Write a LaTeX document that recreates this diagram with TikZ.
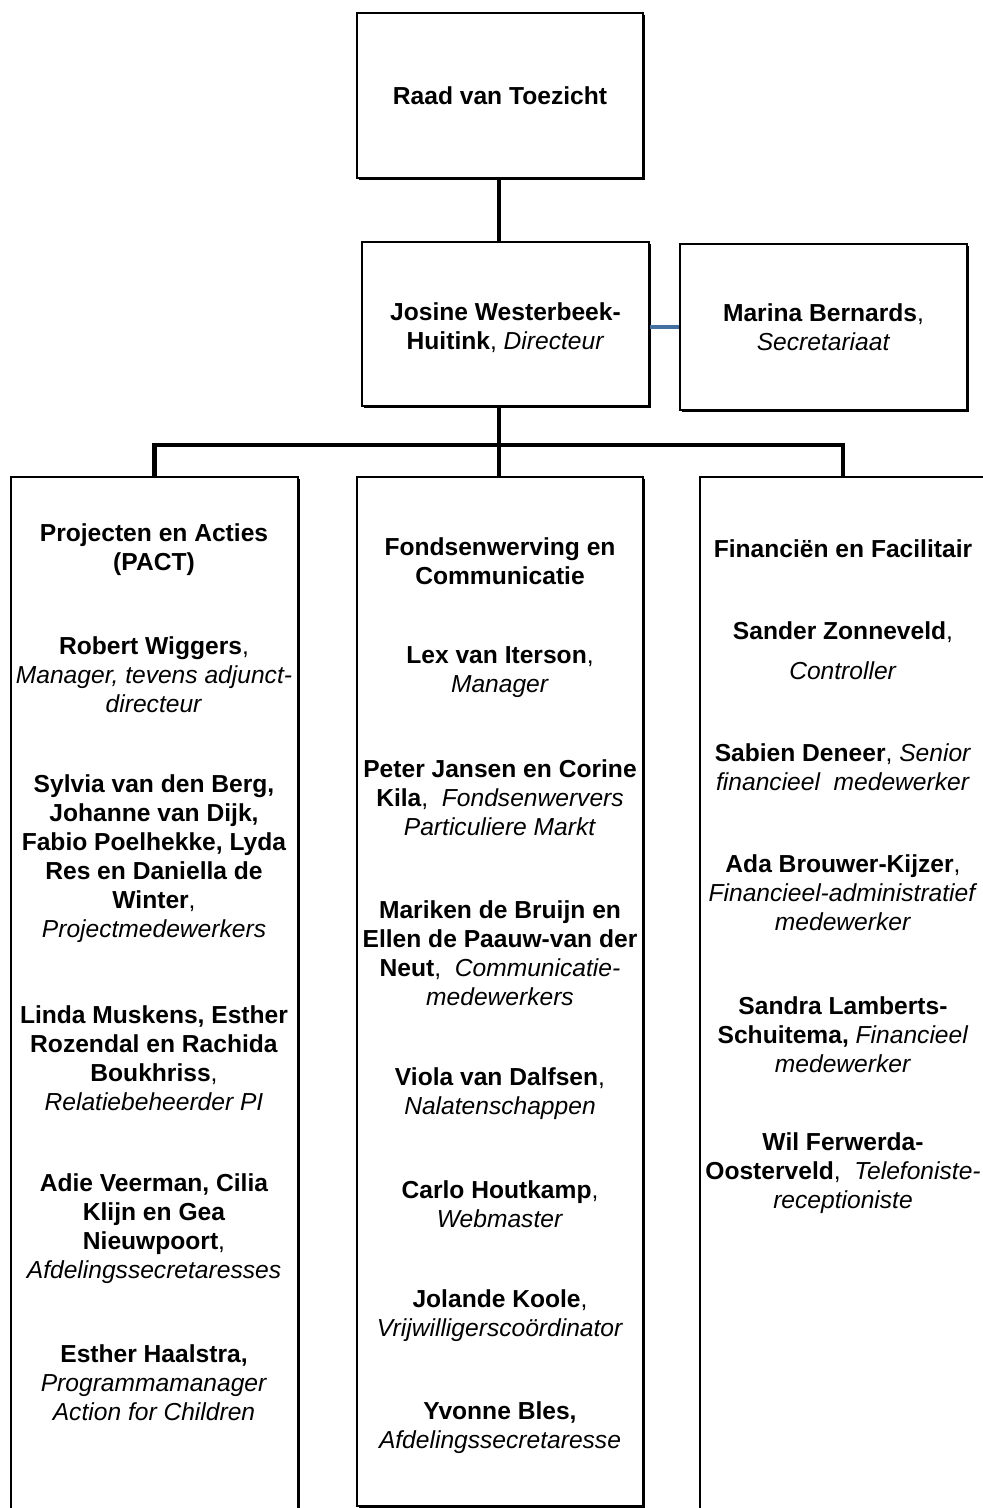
\documentclass[tikz,border=0pt]{standalone}
\usepackage{fontspec}
\setmainfont{Liberation Sans}
\usetikzlibrary{shadows}
\definecolor{linkblue}{RGB}{68,112,160}

\begin{document}
\begin{tikzpicture}[x=0.02cm, y=-0.02cm,
	unit/.style={draw, line width=0.8pt, fill=white, drop shadow={shadow xshift=0.035cm, shadow yshift=-0.035cm, fill=black, opacity=1}},
	txt/.style={align=center, inner sep=0pt, yshift=-0.04cm, font=\fontsize{14}{16.5}\selectfont},
	conn/.style={line width=2.8pt, black}]
	\clip (0,0) rectangle (983,1508);

	\node[unit, txt, yshift=0.04cm, minimum width=5.72cm, minimum height=3.3cm] (raad) at (500,95.5) {\textbf{Raad van Toezicht}};
	\node[unit, align=center, inner sep=0pt, font=\fontsize{14}{16.5}\selectfont, minimum width=5.74cm, minimum height=3.28cm] (josine) at (505.5,324) {\\[-0.07cm]\textbf{Josine Westerbeek-}\\\textbf{Huitink}, \textit{Directeur}};
	\node[unit, txt, yshift=0.04cm, line width=1.6pt, minimum width=5.74cm, minimum height=3.32cm] (marina) at (823.5,327) {\textbf{Marina Bernards},\\\textit{Secretariaat}};

	\node[unit, minimum width=5.74cm, minimum height=21.32cm] (pact) at (154.5,1010) {};
	\node[unit, minimum width=5.72cm, minimum height=20.58cm] (fond) at (500,991.5) {};
	\node[unit, minimum width=5.72cm, minimum height=21.32cm] (fin) at (843,1010) {};

	\coordinate (bus) at (499,445);
	\draw[conn] (raad.south -| bus) -- (josine.north -| bus);
	\draw[conn] (josine.south -| bus) -- (fond.north -| bus);
	\draw[conn] (pact.north) -- (pact.north |- bus) -- (fin.north |- bus) -- (fin.north);
	\draw[line width=2.8pt, linkblue] (josine.east) ++(0,3) -- (marina.west |- 0,327);

	\node[txt] (l1) at (154,547.5) {\textbf{Projecten en Acties}\\\textbf{(PACT)}};
	\node[txt] (l2) at (154,673) {\textbf{Robert Wiggers},\\\textit{Manager, tevens adjunct-}\\\textit{directeur}};
	\node[txt] (l3) at (154,857) {\textbf{Sylvia van den Berg,}\\\textbf{Johanne van Dijk,}\\\textbf{Fabio Poelhekke, Lyda}\\\textbf{Res en Daniella de}\\\textbf{Winter},\\\textit{Projectmedewerkers}};
	\node[txt] (l4) at (154,1056) {\textbf{Linda Muskens, Esther}\\\textbf{Rozendal en Rachida}\\\textbf{Boukhriss},\\\textit{Relatiebeheerder PI}};
	\node[txt] (l5) at (154,1226.5) {\textbf{Adie Veerman, Cilia}\\\textbf{Klijn en Gea}\\\textbf{Nieuwpoort},\\\textit{Afdelingssecretaresses}};
	\node[txt] (l6) at (154,1381) {\textbf{Esther Haalstra,}\\\textit{Programmamanager}\\\textit{Action for Children}};

	\node[txt] (m1) at (500,559) {\textbf{Fondsenwerving en}\\\textbf{Communicatie}};
	\node[txt] (m2) at (500,670) {\textbf{Lex van Iterson},\\\textit{Manager}};
	\node[txt] (m3) at (500,796) {\textbf{Peter Jansen en Corine}\\\textbf{Kila},\ \ \textit{Fondsenwervers}\\\textit{Particuliere Markt}};
	\node[txt] (m4) at (500,951.5) {\textbf{Mariken de Bruijn en}\\\textbf{Ellen de Paauw-van der}\\\textbf{Neut},\ \ \textit{Communicatie-}\\\textit{medewerkers}};
	\node[txt] (m5) at (500,1091.5) {\textbf{Viola van Dalfsen},\\\textit{Nalatenschappen}};
	\node[txt] (m6) at (500,1202.5) {\textbf{Carlo Houtkamp},\\\textit{Webmaster}};
	\node[txt] (m7) at (500,1313.5) {\textbf{Jolande Koole},\\\textit{Vrijwilligerscoördinator}};
	\node[txt] (m8) at (500,1425.5) {\textbf{Yvonne Bles,}\\\textit{Afdelingssecretaresse}};

	\node[txt] (r1) at (843,547) {\textbf{Financiën en Facilitair}};
	\node[txt] (r2) at (843,649) {\textbf{Sander Zonneveld},\\[0.22cm]\textit{Controller}};
	\node[txt] (r3) at (843,765.5) {\textbf{Sabien Deneer}, \textit{Senior}\\\textit{financieel\ \ medewerker}};
	\node[txt] (r4) at (843,891) {\textbf{Ada Brouwer-Kijzer},\\\textit{Financieel-administratief}\\\textit{medewerker}};
	\node[txt] (r5) at (843,1032.5) {\textbf{Sandra Lamberts-}\\\textbf{Schuitema,} \textit{Financieel}\\\textit{medewerker}};
	\node[txt] (r6) at (843,1171.5) {\textbf{Wil Ferwerda-}\\\textbf{Oosterveld},\ \ \textit{Telefoniste-}\\\textit{receptioniste}};
\end{tikzpicture}
\end{document}
